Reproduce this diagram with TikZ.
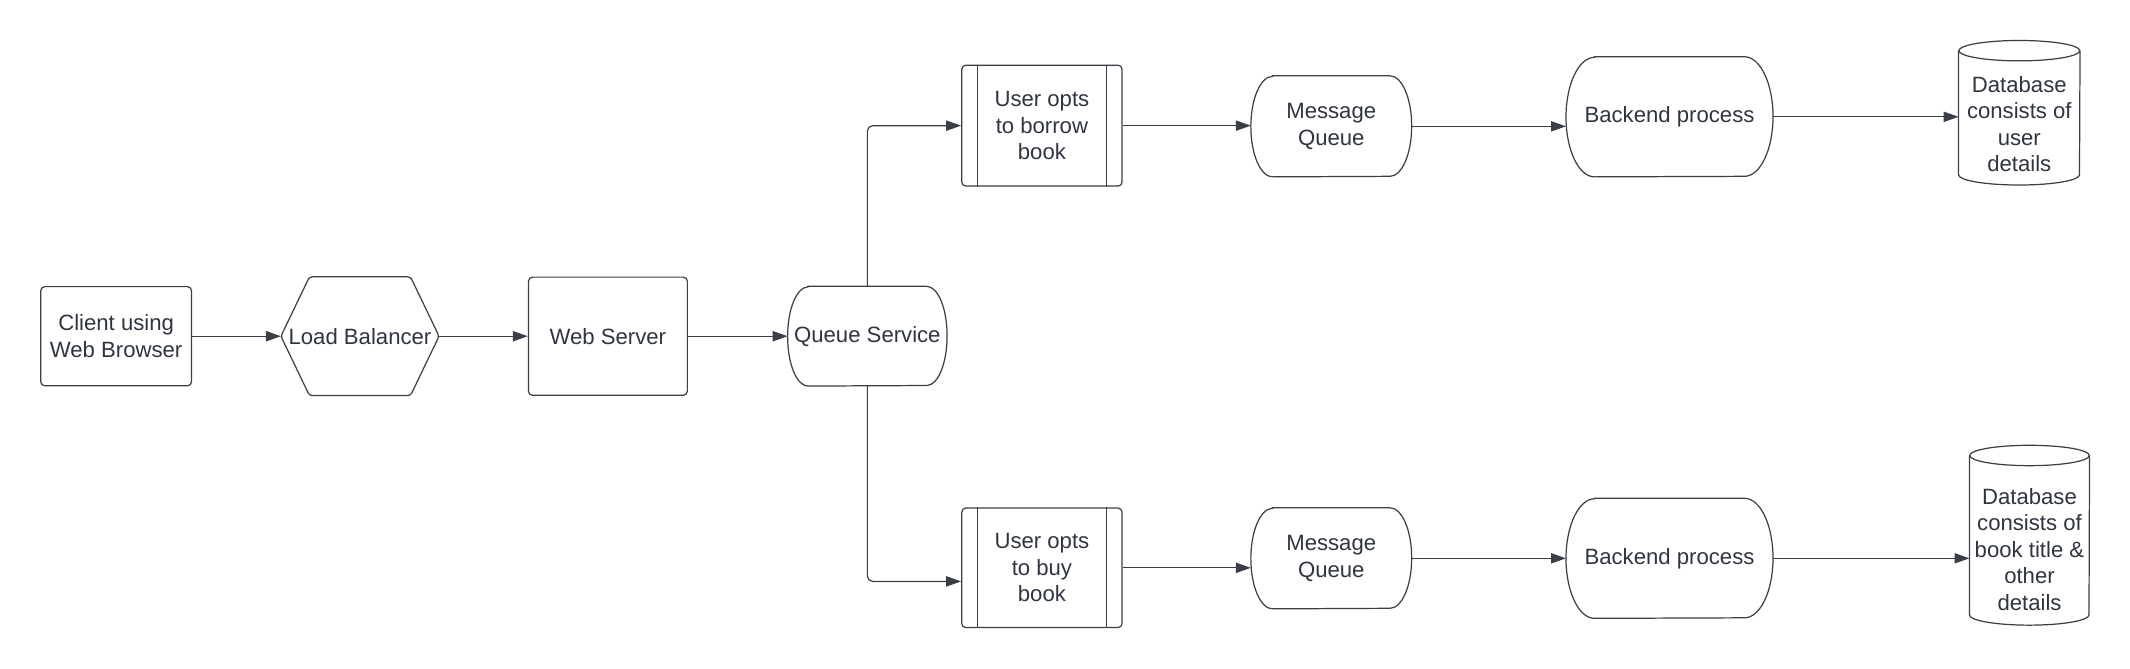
\documentclass[tikz,border=0pt]{standalone}
\usepackage{fontspec}
\setmainfont{Liberation Sans}
\usetikzlibrary{arrows.meta,calc}
\definecolor{strokecol}{HTML}{3A3F47}
\definecolor{textcol}{HTML}{2F3540}
\tikzset{
  lbl/.style={text=textcol, font=\fontsize{16.3}{19.5}\selectfont, align=center, inner sep=0pt},
  plainbox/.style={lbl, draw=strokecol, line width=0.9pt, rounded corners=3pt},
  bare/.style={lbl, draw=none},
  outline/.style={draw=strokecol, line width=0.9pt},
  arr/.style={draw=strokecol, line width=0.9pt, -{Triangle[length=11pt,width=7.5pt]}},
}
\begin{document}
\begin{tikzpicture}[x=1pt,y=1pt]
\useasboundingbox (0,0) rectangle (1568,-492);
% nodes
\node[plainbox, minimum width=111pt, minimum height=73pt] (client) at (85.5,-247.5) {Client using\\Web Browser};
\node[bare, minimum width=116pt, minimum height=87pt] (lb) at (265,-247.5) {Load Balancer};
\node[plainbox, minimum width=117pt, minimum height=87pt] (ws) at (447.5,-247.5) {Web Server};
\node[bare, minimum width=117pt, minimum height=73pt] (qs) at (638.5,-247.5) {Queue Service};
\node[plainbox, minimum width=118pt, minimum height=89pt] (borrow) at (767,-92.5) {User opts\\to borrow\\book};
\node[bare, minimum width=118pt, minimum height=74pt] (mqa) at (980,-93) {Message\\Queue};
\node[bare, minimum width=152pt, minimum height=88pt] (bea) at (1229,-86) {Backend process};
\node[bare, minimum width=89pt, minimum height=106pt] (dba) at (1486.5,-83) {};
\node[lbl] (dbatext) at (1486.5,-91.5) {Database\\consists of\\user\\details};
\node[plainbox, minimum width=118pt, minimum height=88pt] (buy) at (767,-418) {User opts\\to buy\\book};
\node[bare, minimum width=118pt, minimum height=74pt] (mqb) at (980,-411) {Message\\Queue};
\node[bare, minimum width=152pt, minimum height=88pt] (beb) at (1229,-411) {Backend process};
\node[bare, minimum width=88pt, minimum height=132pt] (dbb) at (1494,-394) {};
\node[lbl] (dbbtext) at (1494,-404.5) {Database\\consists of\\book title \&\\other\\details};
% hexagon outline
\draw[outline, rounded corners=2pt] ([xshift=21pt]lb.north west) -- ([xshift=-21pt]lb.north east) -- (lb.east) -- ([xshift=-21pt]lb.south east) -- ([xshift=21pt]lb.south west) -- (lb.west) -- cycle;
% stadium outlines
\draw[outline] ([xshift=15pt]qs.north west) -- ([xshift=-15pt]qs.north east) arc[start angle=90,end angle=-90,x radius=15pt,y radius=36.5pt] -- ([xshift=15pt]qs.south west) arc[start angle=270,end angle=90,x radius=15pt,y radius=36.5pt] -- cycle;
\draw[outline] ([xshift=16pt]mqa.north west) -- ([xshift=-16pt]mqa.north east) arc[start angle=90,end angle=-90,x radius=16pt,y radius=37pt] -- ([xshift=16pt]mqa.south west) arc[start angle=270,end angle=90,x radius=16pt,y radius=37pt] -- cycle;
\draw[outline] ([xshift=16pt]mqb.north west) -- ([xshift=-16pt]mqb.north east) arc[start angle=90,end angle=-90,x radius=16pt,y radius=37pt] -- ([xshift=16pt]mqb.south west) arc[start angle=270,end angle=90,x radius=16pt,y radius=37pt] -- cycle;
\draw[outline] ([xshift=21pt]bea.north west) -- ([xshift=-21pt]bea.north east) arc[start angle=90,end angle=-90,x radius=21pt,y radius=44pt] -- ([xshift=21pt]bea.south west) arc[start angle=270,end angle=90,x radius=21pt,y radius=44pt] -- cycle;
\draw[outline] ([xshift=21pt]beb.north west) -- ([xshift=-21pt]beb.north east) arc[start angle=90,end angle=-90,x radius=21pt,y radius=44pt] -- ([xshift=21pt]beb.south west) arc[start angle=270,end angle=90,x radius=21pt,y radius=44pt] -- cycle;
% process inner lines
\draw[outline] ([xshift=12pt]borrow.north west) -- ([xshift=12pt]borrow.south west);
\draw[outline] ([xshift=-12pt]borrow.north east) -- ([xshift=-12pt]borrow.south east);
\draw[outline] ([xshift=12pt]buy.north west) -- ([xshift=12pt]buy.south west);
\draw[outline] ([xshift=-12pt]buy.north east) -- ([xshift=-12pt]buy.south east);
% cylinders
\draw[outline] ([yshift=-7.5pt]dba.north) ellipse[x radius=44.5pt,y radius=7.5pt];
\draw[outline] ([yshift=-7.5pt]dba.north west) -- ([yshift=7.5pt]dba.south west) arc[start angle=180,end angle=360,x radius=44.5pt,y radius=7.5pt] -- ([yshift=-7.5pt]dba.north east);
\draw[outline] ([yshift=-7.5pt]dbb.north) ellipse[x radius=44pt,y radius=7.5pt];
\draw[outline] ([yshift=-7.5pt]dbb.north west) -- ([yshift=7.5pt]dbb.south west) arc[start angle=180,end angle=360,x radius=44pt,y radius=7.5pt] -- ([yshift=-7.5pt]dbb.north east);
% connectors
\draw[arr] (client.east) -- (lb.west);
\draw[arr] (lb.east) -- (ws.west);
\draw[arr] (ws.east) -- (qs.west);
\draw[arr, rounded corners=4pt] (qs.north) |- (borrow.west);
\draw[arr, rounded corners=4pt] (qs.south) |- ([yshift=-10pt]buy.west);
\draw[arr] (borrow.east) -- (borrow.east -| mqa.west);
\draw[arr] (mqa.east) -- (mqa.east -| bea.west);
\draw[arr] (bea.east) -- (bea.east -| dba.west);
\draw[arr] (buy.east) -- (buy.east -| mqb.west);
\draw[arr] (mqb.east) -- (mqb.east -| beb.west);
\draw[arr] (beb.east) -- (beb.east -| dbb.west);
\end{tikzpicture}
\end{document}
